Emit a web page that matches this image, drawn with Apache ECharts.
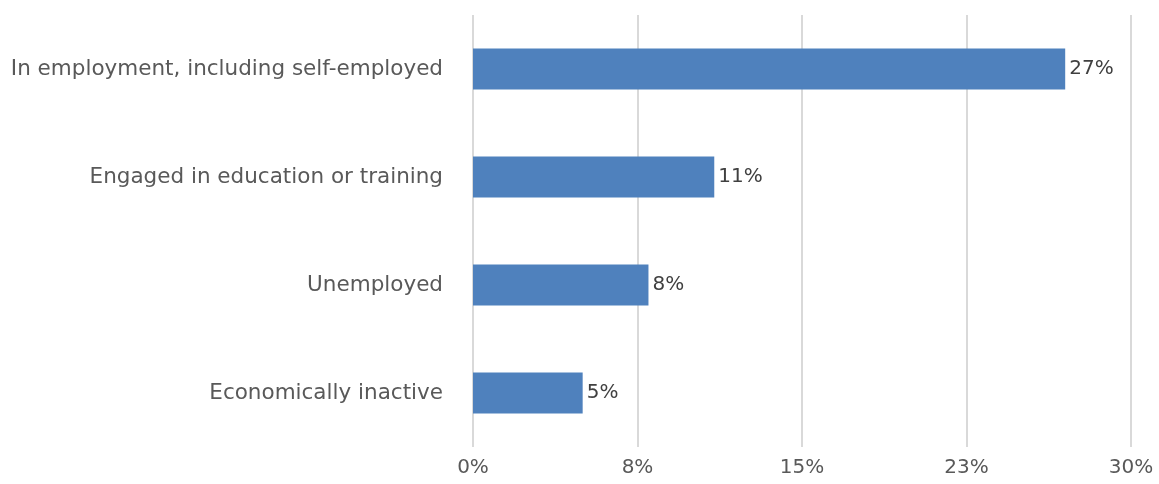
<!DOCTYPE html>
<html>
<head>
<meta charset="utf-8">
<script src="https://cdn.jsdelivr.net/npm/echarts@6/dist/echarts.min.js"></script>
<style>
  html, body { margin: 0; padding: 0; background: #fff; }
  #chart { width: 1159px; height: 484px; }
</style>
</head>
<body>
<div id="chart"></div>
<script>
// Status categories, listed top to bottom
const categories = [
  'In employment, including self-employed',
  'Engaged in education or training',
  'Unemployed',
  'Economically inactive'
];
// Share of respondents (%)
const shares = [27, 11, 8, 5];

const chart = echarts.init(document.getElementById('chart'));
const font = 'DejaVu Sans';

chart.setOption({
  animation: false,
  grid: { left: 473, right: 28, top: 15, bottom: 37 },
  xAxis: {
    type: 'value',
    min: 0,
    max: 30,
    interval: 7.5,
    axisLine: { show: false },
    axisTick: { show: false },
    splitLine: { lineStyle: { color: '#d9d9d9', width: 2 } },
    axisLabel: {
      color: '#595959',
      fontFamily: font,
      fontSize: 20,
      margin: 11,
      formatter: v => Math.round(v) + '%'
    }
  },
  yAxis: {
    type: 'category',
    inverse: true,
    data: categories,
    axisLine: { show: false },
    axisTick: { show: false },
    axisLabel: {
      color: '#595959',
      fontFamily: font,
      fontSize: 21.5,
      margin: 30
    }
  },
  series: [{
    type: 'bar',
    data: shares,
    barWidth: '38%',
    itemStyle: { color: '#4f81bd' },
    label: {
      show: true,
      position: 'right',
      distance: 4,
      color: '#404040',
      fontFamily: font,
      fontSize: 20,
      formatter: p => p.value + '%'
    }
  }]
});
</script>
</body>
</html>
